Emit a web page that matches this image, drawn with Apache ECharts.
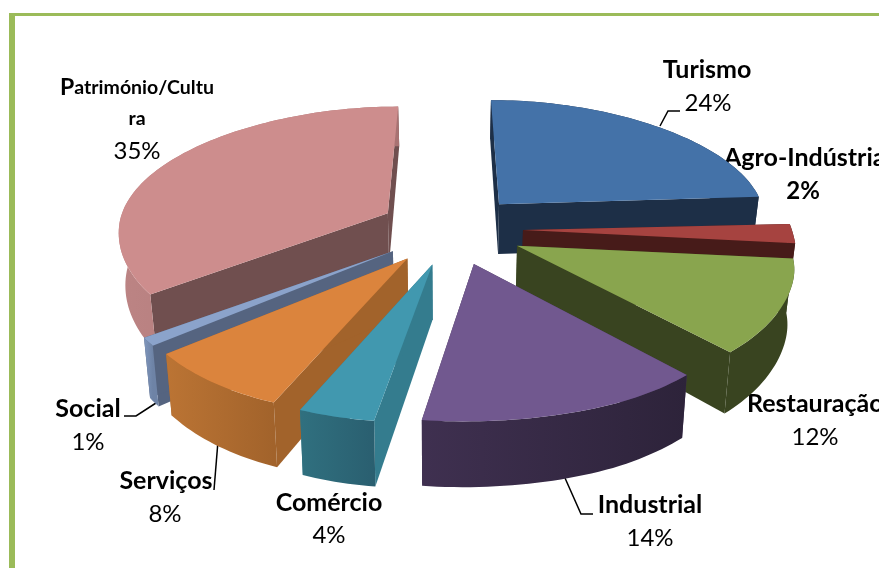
<!DOCTYPE html>
<html>
<head>
<meta charset="utf-8">
<style>html,body{margin:0;padding:0;background:#fff}#main{width:879px;height:568px}</style>
<script src="https://cdn.jsdelivr.net/npm/echarts@6/dist/echarts.min.js"></script>
</head>
<body>
<div id="main"></div>
<script>
// dados
const categories = ['Turismo', 'Agro-Indústria', 'Restauração', 'Industrial', 'Comércio', 'Serviços', 'Social', 'Património/Cultura']
const percentages = [24, 2, 12, 14, 4, 8, 1, 35]

// cores: topo, parede radial, parede exterior (esquerda, direita)
const topColors = ['#4472A8', '#A64340', '#89A54E', '#71588F', '#4198AF', '#DB843D', '#8BA3CB', '#CD8D8D']
const sideColors = ['#1D2F47', '#471B19', '#394420', '#47365A', '#347C8E', '#A2632B', '#556480', '#704F4F']
const outerLeft = ['#1D2F47', '#471B19', '#394420', '#3F3050', '#30707F', '#BB7434', '#7F96BC', '#BC8484']
const outerRight = ['#1D2F47', '#471B19', '#394420', '#2D233A', '#2A5F70', '#A2632B', '#6E83A6', '#A87272']

// geometria da pizza
const cx = 451, cy = 229, R = 270, explode = 72
const ky = 0.495, perspFront = 0.103, perspBack = 0.2, perspX = 0.124, perspXBack = 0.06
const depth0 = 52, depth1 = 11, shrink = 0.02, skew = 8, sag = 6

const total = percentages.reduce((a, b) => a + b, 0)
const starts = []
percentages.reduce((acc, v, i) => { starts[i] = acc; return acc + v }, 0)

function project (u, v, h) {
  const vt = v / R
  const fy = 1 / (1 - (v < 0 ? perspBack : perspFront) * vt)
  const fx = 1 / (1 - perspX * vt + (v < 0 ? perspXBack * vt * vt : 0))
  // a frente esquerda do grafico original abre um pouco mais
  const lean = v > 0 ? skew * vt * vt * vt * Math.min(1, Math.max(0, (150 - u) / 150)) : 0
  // e o lado direito desce um pouco perto do eixo horizontal
  const drop = sag * Math.exp(-Math.pow((v - 30) / 60, 2)) * Math.min(1, Math.max(0, u / 300))
  return [cx + u * fx * (1 - shrink * h) - lean, cy + ky * v * fy + drop + h * (depth0 + depth1 * vt)]
}

function renderSlice (params, api) {
  const i = api.value(0)
  const a0 = starts[i] / total * Math.PI * 2
  const a1 = (starts[i] + api.value(1)) / total * Math.PI * 2
  const mid = (a0 + a1) / 2
  const u0 = explode * Math.sin(mid)
  const v0 = -explode * Math.cos(mid)
  const rim = h => {
    const pts = []
    const n = Math.max(6, Math.ceil((a1 - a0) * 40))
    for (let k = 0; k <= n; k++) {
      const a = a0 + (a1 - a0) * k / n
      pts.push(project(u0 + R * Math.sin(a), v0 - R * Math.cos(a), h))
    }
    return pts
  }
  const top = rim(0), bottom = rim(1)
  const apexT = project(u0, v0, 0), apexB = project(u0, v0, 1)
  const poly = (points, fill) => ({ type: 'polygon', shape: { points }, style: { fill }, silent: true })
  const xs = top.map(p => p[0])
  const grad = new echarts.graphic.LinearGradient(Math.min(...xs), 0, Math.max(...xs), 0, [
    { offset: 0, color: outerLeft[i] }, { offset: 1, color: outerRight[i] }
  ], true)
  return {
    type: 'group',
    children: [
      poly([apexT, top[0], bottom[0], apexB], sideColors[i]),
      poly([apexT, top[top.length - 1], bottom[bottom.length - 1], apexB], sideColors[i]),
      poly(top.concat(bottom.slice().reverse()), grad),
      poly([apexT].concat(top), topColors[i])
    ]
  }
}

// fatias desenhadas de tras para a frente
const drawOrder = categories.map((c, i) => i).sort((a, b) => {
  const m = i => (starts[i] + percentages[i] / 2) / total * Math.PI * 2
  return Math.cos(m(b)) - Math.cos(m(a))
})

const nameFont = 'Lato, "Open Sans", sans-serif'
const nameLabel = (text, x, y, align) => ({
  type: 'text', x, y, silent: true,
  style: { text, fill: '#000', font: 'bold 25px ' + nameFont, align: align || 'center', verticalAlign: 'middle' }
})
const pctLabel = (i, x, y, bold) => ({
  type: 'text', x, y, silent: true,
  style: { text: percentages[i] + '%', fill: '#000', font: (bold ? 'bold ' : '') + '24px ' + nameFont, align: 'center', verticalAlign: 'middle' }
})
const leader = points => ({
  type: 'polyline', silent: true, shape: { points }, style: { stroke: '#000', lineWidth: 1.5, fill: null }
})
const patName = categories[7]

const chart = echarts.init(document.getElementById('main'), null, { renderer: 'canvas' })
chart.setOption({
  animation: false,
  backgroundColor: '#fff',
  series: [{
    type: 'custom',
    coordinateSystem: 'none',
    renderItem: renderSlice,
    data: drawOrder.map(i => [i, percentages[i]]),
    silent: true
  }],
  graphic: [
    // moldura verde
    { type: 'rect', silent: true, shape: { x: 9, y: 13, width: 870, height: 3 }, style: { fill: '#9BBB59' } },
    { type: 'rect', silent: true, shape: { x: 9, y: 13, width: 6, height: 555 }, style: { fill: '#9BBB59' } },
    leader([[660, 126], [668, 111], [680, 111]]),
    leader([[124, 416], [136, 416], [156, 403]]),
    leader([[214, 490], [218, 441]]),
    leader([[565, 478], [581, 514], [593, 514]]),
    nameLabel(categories[0], 707, 70),
    pctLabel(0, 708, 103),
    nameLabel(categories[1], 724, 158, 'left'),
    pctLabel(1, 803, 191, true),
    nameLabel(categories[2], 747, 404, 'left'),
    pctLabel(2, 815, 437),
    nameLabel(categories[3], 650, 505),
    pctLabel(3, 650, 538),
    nameLabel(categories[4], 329, 503),
    pctLabel(4, 329, 535),
    nameLabel(categories[5], 166, 481),
    pctLabel(5, 165, 514),
    nameLabel(categories[6], 88, 409),
    pctLabel(6, 88, 442),
    {
      type: 'text', x: 137, y: 88, silent: true,
      style: {
        text: '{a|' + patName.slice(0, 1) + '}{b|' + patName.slice(1, 16) + '}',
        align: 'center', verticalAlign: 'middle',
        rich: {
          a: { font: 'bold 23px ' + nameFont, fill: '#000' },
          b: { font: 'bold 19.5px ' + nameFont, fill: '#000' }
        }
      }
    },
    { type: 'text', x: 137, y: 119, silent: true, style: { text: patName.slice(16), fill: '#000', font: 'bold 19.5px ' + nameFont, align: 'center', verticalAlign: 'middle' } },
    pctLabel(7, 137, 151)
  ]
})
</script>
</body>
</html>
